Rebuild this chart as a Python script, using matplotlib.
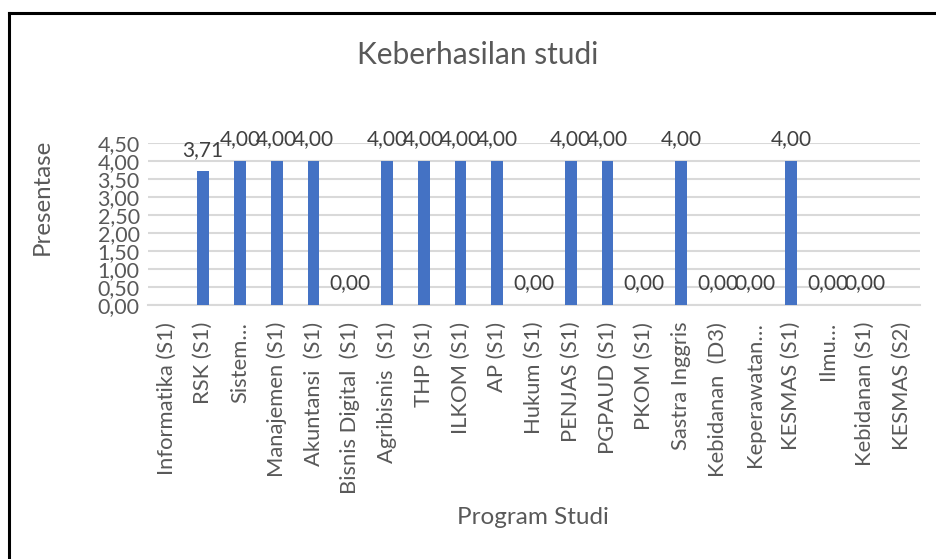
import matplotlib
matplotlib.use("Agg")
import matplotlib.pyplot as plt
from matplotlib.lines import Line2D
import numpy as np

categories = ["Informatika (S1)", "RSK (S1)", "Sistem…", "Manajemen (S1)", "Akuntansi  (S1)",
              "Bisnis Digital  (S1)", "Agribisnis  (S1)", "THP (S1)", "ILKOM (S1)", "AP (S1)",
              "Hukum (S1)", "PENJAS (S1)", "PGPAUD (S1)", "PKOM (S1)", "Sastra Inggris",
              "Kebidanan  (D3)", "Keperawatan…", "KESMAS (S1)", "Ilmu…", "Kebidanan (S1)",
              "KESMAS (S2)"]
values = [None, 3.71, 4.00, 4.00, 4.00, 0.00, 4.00, 4.00, 4.00, 4.00,
          0.00, 4.00, 4.00, 0.00, 4.00, 0.00, 0.00, 4.00, 0.00, 0.00, None]
yticks = [0, 0.5, 1.0, 1.5, 2.0, 2.5, 3.0, 3.5, 4.0, 4.5]
title = "Keberhasilan studi"
xlabel = "Program Studi"
ylabel = "Presentase"

plt.rcParams['font.family'] = ['Lato', 'DejaVu Sans']
W, H = 936, 559
fig = plt.figure(figsize=(W/100, H/100), dpi=100)
fig.patch.set_facecolor("white")

x0, x1, yb, yt = 148, 920, 305, 143
ax = fig.add_axes([x0/W, 1 - yb/H, (x1-x0)/W, (yb-yt)/H])

x = np.arange(len(categories))
bar_vals = [v if v is not None else 0 for v in values]
ax.bar(x, bar_vals, width=0.32, color="#4472C4", zorder=3)
for xi, v in zip(x, values):
    if v is None:
        continue
    ax.annotate(f"{v:.2f}".replace(".", ","), (xi, v), xytext=(0, 8.5), textcoords="offset points",
                ha="center", va="bottom", fontsize=15, color="#404040", clip_on=False, zorder=4)

ax.set_xlim(-0.5, len(categories) - 0.5)
ax.set_ylim(0, 4.5)
ax.set_yticks(yticks)
ax.set_yticklabels([f"{t:.2f}".replace(".", ",") for t in yticks], fontsize=15.5, color="#595959")
ax.set_xticks(x)
ax.set_xticklabels(categories, rotation=90, fontsize=15.8, color="#595959", va="top", ha="center")
ax.tick_params(axis="both", length=0)
ax.tick_params(axis="x", pad=12)
ax.tick_params(axis="y", pad=6)
ax.grid(axis="y", color="#D9D9D9", linewidth=1.5, zorder=0)
for s in ["top", "right", "left"]:
    ax.spines[s].set_visible(False)
ax.spines["bottom"].set_color("#D9D9D9")
ax.spines["bottom"].set_linewidth(1.5)
ax.set_facecolor("none")

fig.text(478/W, 1 - 55/H, title, ha="center", va="center", fontsize=21.5, color="#595959")
fig.text(42/W, 1 - 197/H, ylabel, ha="center", va="center", rotation=90, fontsize=17.3, color="#595959")
fig.text(533/W, 1 - 518/H, xlabel, ha="center", va="center", fontsize=17.5, color="#595959")

fig.add_artist(Line2D([9/W, 1.0], [1 - 13/H, 1 - 13/H], color="black", linewidth=2.2, transform=fig.transFigure))
fig.add_artist(Line2D([9/W, 9/W], [0, 1 - 13/H], color="black", linewidth=2.2, transform=fig.transFigure))

fig.savefig("out.png", dpi=100)
